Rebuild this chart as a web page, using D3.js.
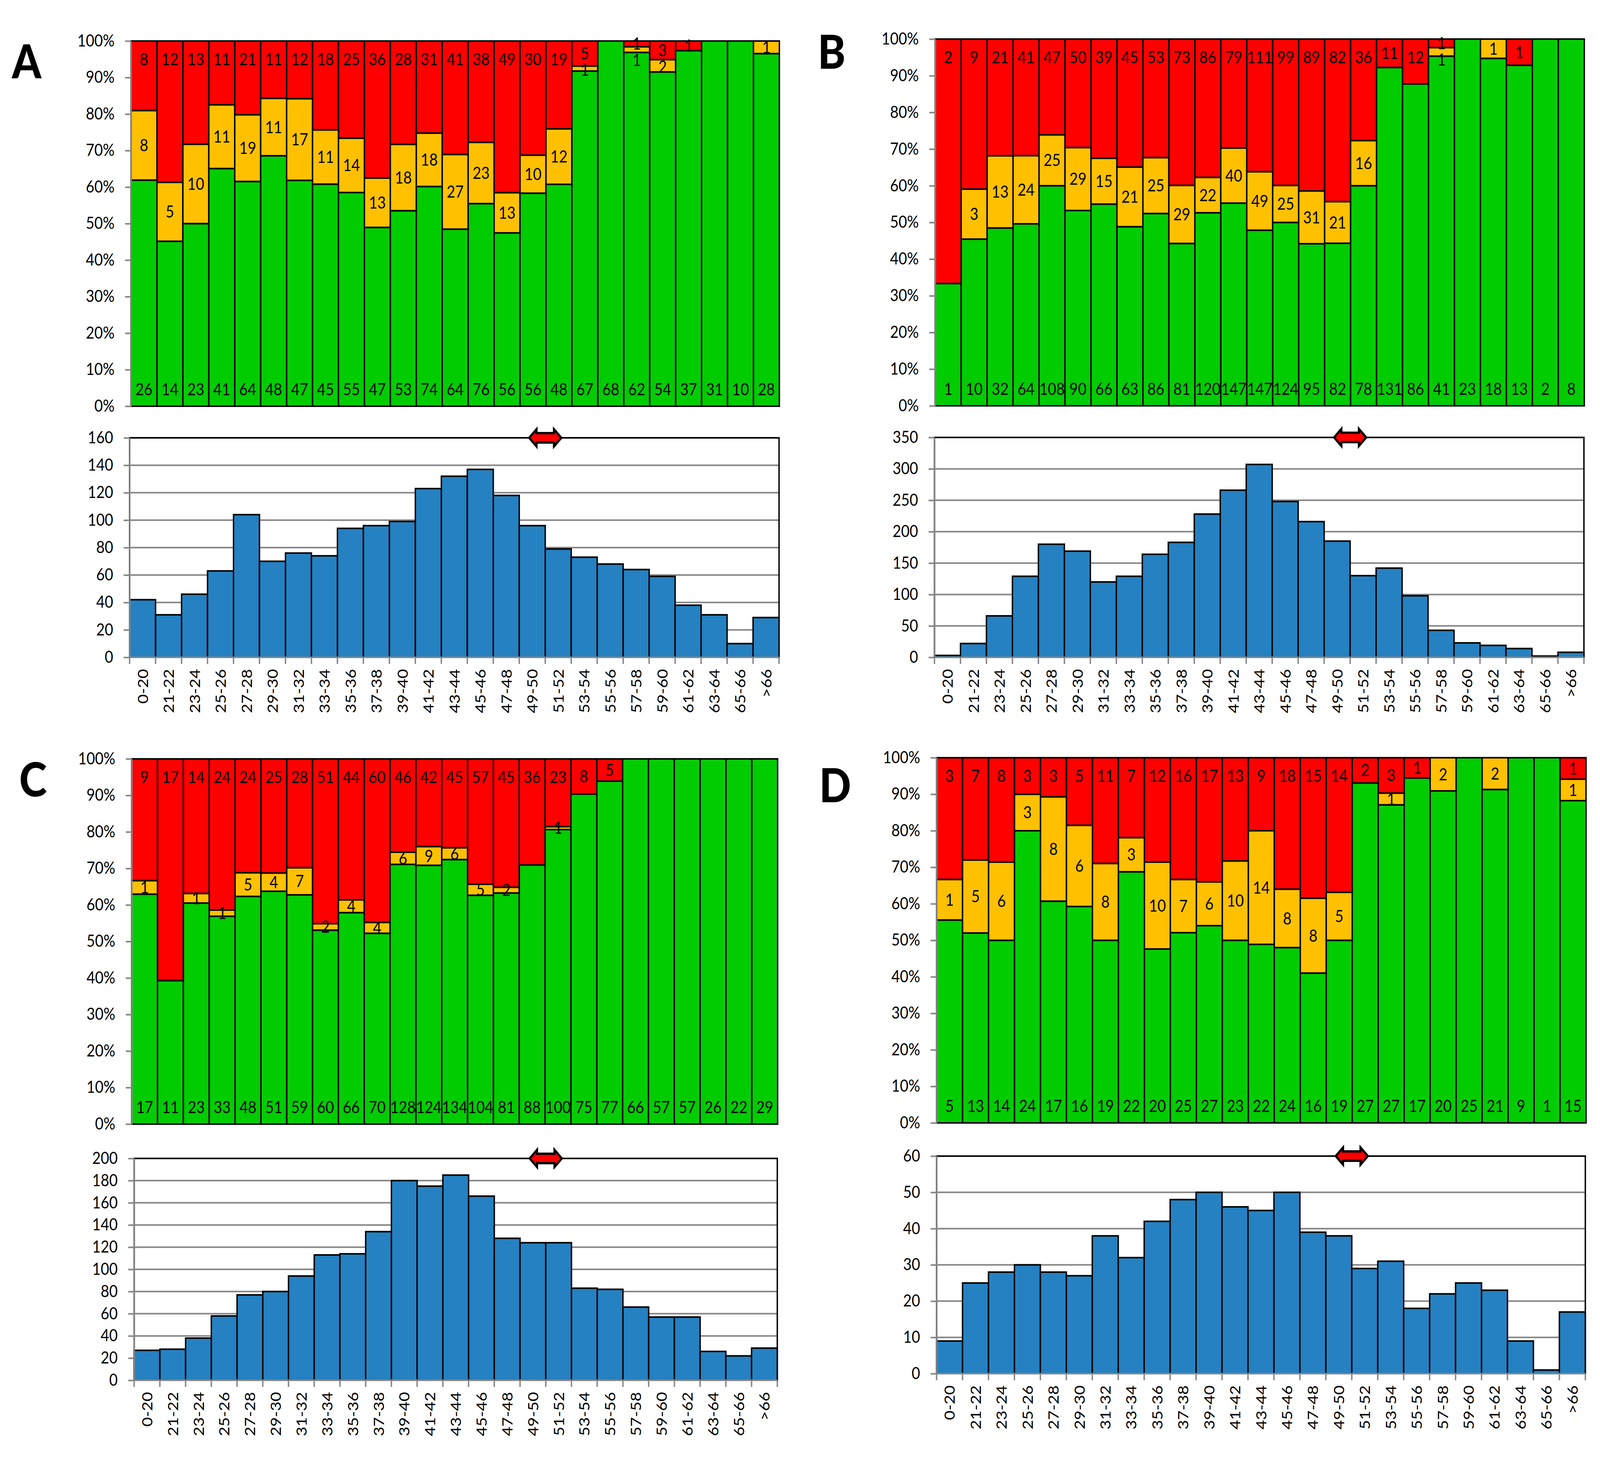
<!DOCTYPE html>
<html>
<head>
<meta charset="utf-8">
<script src="https://cdn.jsdelivr.net/npm/d3@7"></script>
<style>
  html, body { margin: 0; padding: 0; background: #fff; overflow: hidden; }
  svg { display: block; width: 100vw; height: 100vh; }
  text { font-family: Lato, "Open Sans", sans-serif; fill: #000; }
</style>
</head>
<body>
<svg id="chart" viewBox="0 0 4580 3733" preserveAspectRatio="none"></svg>
<script>
// ===== DATA =====
const categories = ["0-20", "21-22", "23-24", "25-26", "27-28", "29-30", "31-32", "33-34", "35-36",
    "37-38", "39-40", "41-42", "43-44", "45-46", "47-48", "49-50", "51-52", "53-54", "55-56",
    "57-58", "59-60", "61-62", "63-64", "65-66", ">66"];

const aGreen  = [26, 14, 23, 41, 64, 48, 47, 45, 55, 47, 53, 74, 64, 76, 56, 56, 48, 67, 68, 62, 54, 37, 31, 10, 28];
const aYellow = [8, 5, 10, 11, 19, 11, 17, 11, 14, 13, 18, 18, 27, 23, 13, 10, 12, 1, 0, 1, 2, 0, 0, 0, 1];
const aRed    = [8, 12, 13, 11, 21, 11, 12, 18, 25, 36, 28, 31, 41, 38, 49, 30, 19, 5, 0, 1, 3, 1, 0, 0, 0];
const aHist   = [42, 31, 46, 63, 104, 70, 76, 74, 94, 96, 99, 123, 132, 137, 118, 96, 79, 73, 68, 64, 59, 38, 31, 10, 29];

const bGreen  = [1, 10, 32, 64, 108, 90, 66, 63, 86, 81, 120, 147, 147, 124, 95, 82, 78, 131, 86, 41, 23, 18, 13, 2, 8];
const bYellow = [0, 3, 13, 24, 25, 29, 15, 21, 25, 29, 22, 40, 49, 25, 31, 21, 16, 0, 0, 1, 0, 1, 0, 0, 0];
const bRed    = [2, 9, 21, 41, 47, 50, 39, 45, 53, 73, 86, 79, 111, 99, 89, 82, 36, 11, 12, 1, 0, 0, 1, 0, 0];
const bHist   = [3, 22, 66, 129, 180, 169, 120, 129, 164, 183, 228, 266, 307, 248, 216, 185, 130, 142, 98, 43, 23, 19, 14, 2, 8];

const cGreen  = [17, 11, 23, 33, 48, 51, 59, 60, 66, 70, 128, 124, 134, 104, 81, 88, 100, 75, 77, 66, 57, 57, 26, 22, 29];
const cYellow = [1, 0, 1, 1, 5, 4, 7, 2, 4, 4, 6, 9, 6, 5, 2, 0, 1, 0, 0, 0, 0, 0, 0, 0, 0];
const cRed    = [9, 17, 14, 24, 24, 25, 28, 51, 44, 60, 46, 42, 45, 57, 45, 36, 23, 8, 5, 0, 0, 0, 0, 0, 0];
const cHist   = [27, 28, 38, 58, 77, 80, 94, 113, 114, 134, 180, 175, 185, 166, 128, 124, 124, 83, 82, 66, 57, 57, 26, 22, 29];

const dGreen  = [5, 13, 14, 24, 17, 16, 19, 22, 20, 25, 27, 23, 22, 24, 16, 19, 27, 27, 17, 20, 25, 21, 9, 1, 15];
const dYellow = [1, 5, 6, 3, 8, 6, 8, 3, 10, 7, 6, 10, 14, 8, 8, 5, 0, 1, 0, 2, 0, 2, 0, 0, 1];
const dRed    = [3, 7, 8, 3, 3, 5, 11, 7, 12, 16, 17, 13, 9, 18, 15, 14, 2, 3, 1, 0, 0, 0, 0, 0, 1];
const dHist   = [9, 25, 28, 30, 28, 27, 38, 32, 42, 48, 50, 46, 45, 50, 39, 38, 29, 31, 18, 22, 25, 23, 9, 1, 17];

const pctTicks = [0, 10, 20, 30, 40, 50, 60, 70, 80, 90, 100];
const aCountTicks = [0, 20, 40, 60, 80, 100, 120, 140, 160];
const bCountTicks = [0, 50, 100, 150, 200, 250, 300, 350];
const cCountTicks = [0, 20, 40, 60, 80, 100, 120, 140, 160, 180, 200];
const dCountTicks = [0, 10, 20, 30, 40, 50, 60];

// arrow sits on the boundary in front of this category
const arrowCategory = "51-52";

// ===== STYLE / LAYOUT =====
const GREEN = "#00cc00", YELLOW = "#ffc000", RED = "#ff0000", BLUE = "#2581c1", GREY = "#868686";
const FONT = 42;

const panels = [
    { letter: "A", green: aGreen, yellow: aYellow, red: aRed, hist: aHist, ticks: aCountTicks,
      letterAt: [34, 201],
      top: { x0: 375, x1: 2231, y0: 105, y1: 1040 },
      bottom: { x0: 371, x1: 2230, y0: 1121, y1: 1683 } },
    { letter: "B", green: bGreen, yellow: bYellow, red: bRed, hist: bHist, ticks: bCountTicks,
      letterAt: [2341, 176],
      top: { x0: 2677, x1: 4535, y0: 100, y1: 1039 },
      bottom: { x0: 2675, x1: 4534, y0: 1120, y1: 1683 } },
    { letter: "C", green: cGreen, yellow: cYellow, red: cRed, hist: cHist, ticks: cCountTicks,
      letterAt: [55, 2039],
      top: { x0: 377, x1: 2226, y0: 1943, y1: 2878 },
      bottom: { x0: 384, x1: 2225, y0: 2966, y1: 3534 } },
    { letter: "D", green: dGreen, yellow: dYellow, red: dRed, hist: dHist, ticks: dCountTicks,
      letterAt: [2345, 2054],
      top: { x0: 2681, x1: 4540, y0: 1940, y1: 2875 },
      bottom: { x0: 2681, x1: 4538, y0: 2960, y1: 3517 } }
];

const svg = d3.select("#chart");

function styleAxis(g) {
    g.select(".domain").attr("stroke", GREY).attr("stroke-width", 4);
    g.selectAll(".tick line").attr("stroke", GREY).attr("stroke-width", 4);
    g.selectAll(".tick text").attr("font-size", FONT).attr("fill", "#000");
}

function drawStacked(p) {
    const box = p.top;
    const x = d3.scaleBand().domain(categories).range([box.x0, box.x1]).padding(0);
    const y = d3.scaleLinear().domain([0, 1]).range([box.y1, box.y0]);
    const g = svg.append("g");

    const rows = categories.map((c, i) => {
        const t = p.green[i] + p.yellow[i] + p.red[i];
        const g1 = p.green[i] / t, y1 = (p.green[i] + p.yellow[i]) / t;
        return { c, g: p.green[i], yl: p.yellow[i], r: p.red[i], g1, y1 };
    });

    const segs = [];
    rows.forEach(d => {
        if (d.g > 0) segs.push({ c: d.c, lo: 0, hi: d.g1, fill: GREEN });
        if (d.yl > 0) segs.push({ c: d.c, lo: d.g1, hi: d.y1, fill: YELLOW });
        if (d.r > 0) segs.push({ c: d.c, lo: d.y1, hi: 1, fill: RED });
    });

    g.selectAll("rect").data(segs).enter().append("rect")
        .attr("x", d => x(d.c))
        .attr("width", x.bandwidth())
        .attr("y", d => y(d.hi))
        .attr("height", d => y(d.lo) - y(d.hi))
        .attr("fill", d => d.fill)
        .attr("stroke", "#000")
        .attr("stroke-width", 4);

    // labels: green near base, red near top, yellow centred
    const labels = [];
    rows.forEach(d => {
        let redPos = null;
        if (d.g > 0) labels.push({ c: d.c, pos: 0.046, v: d.g });
        if (d.r > 0) {
            redPos = Math.max(0.95, (d.y1 + 1) / 2);
            labels.push({ c: d.c, pos: redPos, v: d.r });
        }
        if (d.yl > 0) {
            let pos = (d.g1 + d.y1) / 2;
            if (redPos !== null && redPos - pos < 0.045) pos = redPos - 0.045;
            labels.push({ c: d.c, pos, v: d.yl });
        }
    });

    g.selectAll("text.lbl").data(labels).enter().append("text")
        .attr("class", "lbl")
        .attr("x", d => x(d.c) + x.bandwidth() / 2)
        .attr("y", d => y(d.pos))
        .attr("dy", "0.36em")
        .attr("text-anchor", "middle")
        .attr("font-size", FONT)
        .text(d => d.v);

    const ax = svg.append("g")
        .attr("transform", `translate(${box.x0},0)`)
        .call(d3.axisLeft(y)
            .tickValues(pctTicks.map(v => v / 100))
            .tickFormat(d3.format(".0%"))
            .tickSize(17).tickSizeOuter(0).tickPadding(30));
    styleAxis(ax);
}

function drawHistogram(p) {
    const box = p.bottom;
    const x = d3.scaleBand().domain(categories).range([box.x0, box.x1]).padding(0);
    const y = d3.scaleLinear().domain([0, d3.max(p.ticks)]).range([box.y1, box.y0]);
    const g = svg.append("g");

    // gridlines
    g.selectAll("line.grid").data(p.ticks.filter(t => t > 0 && t < d3.max(p.ticks))).enter()
        .append("line")
        .attr("x1", box.x0).attr("x2", box.x1)
        .attr("y1", d => y(d)).attr("y2", d => y(d))
        .attr("stroke", GREY).attr("stroke-width", 4);

    // plot frame
    g.append("rect")
        .attr("x", box.x0).attr("y", box.y0)
        .attr("width", box.x1 - box.x0).attr("height", box.y1 - box.y0)
        .attr("fill", "none").attr("stroke", "#000").attr("stroke-width", 4);

    g.selectAll("rect.bar").data(categories.map((c, i) => ({ c, v: p.hist[i] }))).enter()
        .append("rect")
        .attr("class", "bar")
        .attr("x", d => x(d.c))
        .attr("width", x.bandwidth())
        .attr("y", d => y(d.v))
        .attr("height", d => y(0) - y(d.v))
        .attr("fill", BLUE)
        .attr("stroke", "#000")
        .attr("stroke-width", 4);

    // y axis
    const ax = svg.append("g")
        .attr("transform", `translate(${box.x0},0)`)
        .call(d3.axisLeft(y).tickValues(p.ticks).tickSize(17).tickSizeOuter(0).tickPadding(30));
    styleAxis(ax);

    // x axis line with ticks between categories
    g.append("line")
        .attr("x1", box.x0).attr("x2", box.x1)
        .attr("y1", y(0)).attr("y2", y(0))
        .attr("stroke", GREY).attr("stroke-width", 4);
    const edges = categories.map(c => x(c)).concat([box.x1]);
    g.selectAll("line.xt").data(edges).enter().append("line")
        .attr("x1", d => d).attr("x2", d => d)
        .attr("y1", y(0)).attr("y2", y(0) + 17)
        .attr("stroke", GREY).attr("stroke-width", 4);

    g.selectAll("text.xl").data(categories).enter().append("text")
        .attr("class", "xl")
        .attr("transform", d => `translate(${x(d) + x.bandwidth() / 2},${y(0) + 30}) rotate(-90)`)
        .attr("dy", "0.36em")
        .attr("text-anchor", "end")
        .attr("font-size", FONT)
        .text(d => d);

    // double arrow on the top edge
    const cx = x(arrowCategory), cy = box.y0;
    const pts = [[-46, 0], [-25, -22], [-25, -12], [25, -12], [25, -22], [46, 0],
                 [25, 22], [25, 12], [-25, 12], [-25, 22]];
    svg.append("path")
        .attr("d", d3.line()(pts.map(q => [cx + q[0], cy + q[1]])) + "Z")
        .attr("fill", RED)
        .attr("stroke", "#000")
        .attr("stroke-width", 6)
        .attr("stroke-linejoin", "miter");
}

panels.forEach(p => {
    drawStacked(p);
    drawHistogram(p);
    svg.append("text")
        .attr("x", p.letterAt[0]).attr("y", p.letterAt[1])
        .attr("font-size", 120).attr("font-weight", 900)
        .text(p.letter);
});
</script>
</body>
</html>
